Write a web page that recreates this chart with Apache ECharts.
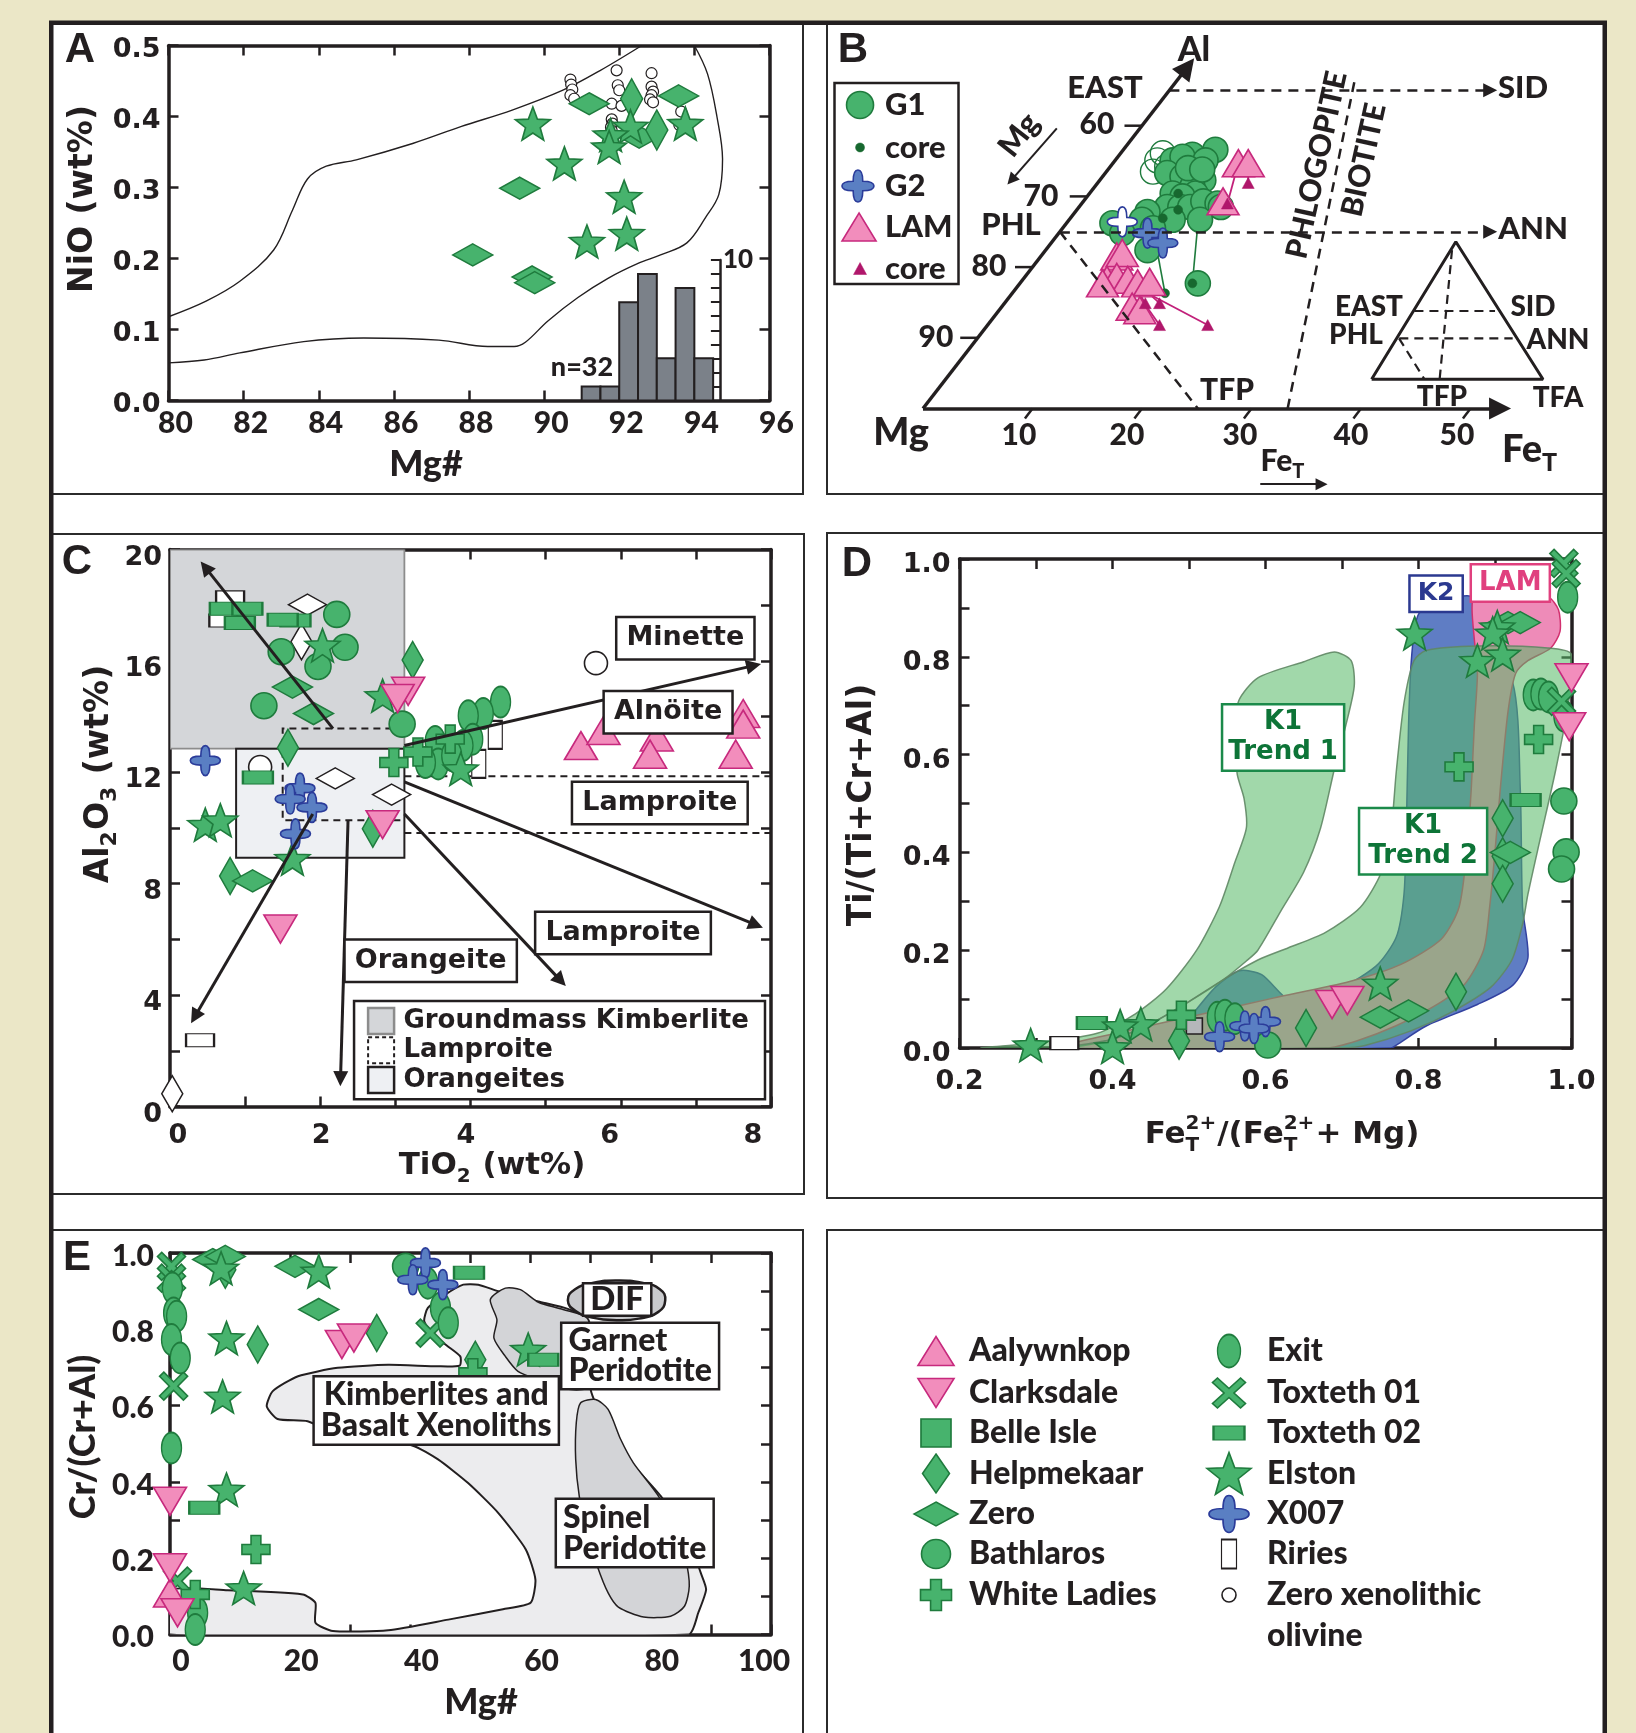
<!DOCTYPE html>
<html>
<head>
<meta charset="utf-8">
<title>Kimberlite mineral chemistry</title>
<script src="https://cdn.jsdelivr.net/npm/echarts@6.0.0/dist/echarts.min.js"></script>
<style>
  html, body { margin: 0; padding: 0; background: #ebe7c7; }
  #chart { width: 1636px; height: 1733px; }
</style>
</head>
<body>
<div id="chart"></div>
<script>
// ---------- panel A : olivine NiO vs Mg# ----------
const A_envUpper = [[80,0.118],[81.0,0.140],[81.9,0.168],[82.8,0.212],[83.3,0.268],[83.7,0.312],[84.2,0.330],[85.0,0.339],[86.5,0.362],[87.8,0.386],[89.15,0.409],[90.5,0.437],[91.5,0.465],[92.6,0.5]];
const A_envLower = [[94.0,0.5],[94.35,0.46],[94.6,0.40],[94.75,0.34],[94.65,0.29],[94.3,0.258],[93.8,0.222],[93.1,0.205],[92.5,0.193],[91.7,0.172],[90.9,0.145],[90.1,0.112],[89.5,0.082],[89.2,0.076],[88.5,0.076],[87.2,0.085],[85.2,0.088],[83.6,0.083],[81.9,0.067],[80.95,0.057],[80,0.053]];
const A_histEdges = [91, 91.5, 92, 92.5, 93, 93.5, 94, 94.5];
const A_histCounts = [1, 1, 7, 9, 3, 8, 3];
const A_zeroOlivine = [[90.7,0.452],[90.72,0.445],[90.75,0.438],[90.7,0.43],[90.8,0.425],[91.93,0.465],[91.96,0.444],[92.0,0.437],[91.8,0.418],[92.06,0.415],[91.8,0.396],[91.82,0.39],[91.78,0.385],[91.8,0.38],[92.86,0.461],[92.86,0.442],[92.9,0.435],[92.86,0.43],[92.82,0.424],[92.9,0.42],[93.65,0.407],[93.6,0.388]];
const A_zero = [[91.2,0.418],[93.58,0.429],[89.35,0.299],[88.1,0.205],[89.68,0.174],[89.75,0.166],[92.53,0.371]];
const A_helpmekaar = [[92.33,0.425],[93.0,0.381]];
const A_elston = [[89.7,0.39],[92.3,0.386],[93.76,0.39],[91.77,0.374],[91.73,0.357],[90.54,0.334],[92.13,0.287],[92.2,0.235],[91.14,0.224]];

// ---------- panel B : mica Mg-Al-FeT (u = FeT + Al/2, v = Al) ----------
const B_leftTickVals = [60, 70, 80, 90];
const B_bottomTickVals = [10, 20, 30, 40, 50];
const B_axisLines = [[[0,0],[24.15,48.3]], [[0,0],[52.7,0]]];
const B_dashArrows = [[[22.5,45],[51.8,45]], [[12.5,25],[51.8,25]]];
const B_dashLines = [[[12.5,25],[25.1,0]], [[33.3,0],[39.5,47]]];
const B_smallArrows = [[[12.22,39.63],[8.07,32.31]], [[30.8,-10.7],[36.4,-10.7]]];
const B_inset = [[40.97,4.13],[48.66,23.59],[56.62,4.13],[40.97,4.13]];
const B_insetDash = [[44.88,13.79,52.24,13.79],[43.5,9.93,53.85,9.93],[48.31,22.4,47.18,4.13],[43.47,9.93,45.8,4.13]];
const B_g1 = [[26.7,36.6],[24.6,35.9],[22.8,35.1],[23.7,35.6],[25.8,35.1],[22.3,33.3],[23.7,32.8],[25.6,32.3],[24.6,31.4],[22.8,30.4],[24.9,30.4],[23.7,30.0],[22.3,28.5],[23.5,28.5],[24.4,28.5],[20.5,27.8],[25.6,29.3],[26.9,29.0],[27.2,28.5],[25.3,26.7],[22.8,26.7],[20.0,26.7],[17.3,26.2],[18.2,24.8],[21.0,25.5],[20.5,22.4],[25.1,17.7],[24.2,34.0],[25.5,33.8]];
const B_g1Open = [[21.4,35.1],[22.3,34.2],[21.0,33.5],[21.9,36.1]];
const B_g1Core = [[23.3,30.4],[23.3,28.1],[21.9,26.9],[24.6,17.7],[22.1,16.3]];
const B_g1Links = [[24.6,17.7,25.6,34.5],[22.1,16.3,21.0,25.5],[23.3,28.1,24.0,33.0],[21.9,26.9,22.8,31.0],[23.3,30.4,23.0,35.0]];
const B_g2 = [[20.5,24.8],[21.9,23.4]];
const B_g2Open = [[18.2,26.4]];
const B_lam = [[17.7,21.5],[18.2,22.0],[16.8,18.2],[17.7,18.6],[18.7,18.2],[19.6,17.7],[20.7,17.9],[19.1,14.4],[19.8,13.9],[28.8,34.7],[29.7,34.7],[27.4,29.3],[16.4,17.7]];
const B_lamCore = [[29.7,31.9],[27.8,29.0],[21.6,14.9],[21.6,11.8],[26.0,11.8],[20.3,14.9]];
const B_lamLinks = [[17.7,18.6,26.0,11.8],[18.7,18.2,21.6,11.8],[28.8,34.7,27.8,29.0],[29.7,34.7,29.7,31.9],[19.6,17.7,21.6,14.9],[17.7,21.5,20.3,14.9]];

// ---------- panel C : spinel Al2O3 vs TiO2 ----------
const C_gmKimberlite = [[0,12.85],[3.12,12.85],[3.12,20],[0,20]];
const C_orangeites = [[0.88,8.93],[3.12,8.93],[3.12,12.85],[0.88,12.85]];
const C_lamproiteBox = [[3.12,13.57],[1.5,13.57],[1.5,10.28],[3.12,10.28]];
const C_lamproiteLines = [[3.12,11.86,8,11.86],[3.12,9.82,8,9.82]];
const C_trends = [[[2.17,13.57],[0.47,19.36]],[[1.9,10.5],[0.33,3.22]],[[2.37,10.28],[2.27,1.0]],[[3.12,10.5],[5.2,4.52]],[[3.12,11.66],[7.8,6.52]],[[3.12,12.96],[7.77,15.83]]];
const C_legendBox = [[2.45,0.26],[7.92,0.26],[7.92,3.79],[2.45,3.79]];
const C_bathlaros = [[2.22,17.67],[1.48,16.33],[2.33,16.49],[1.97,15.8],[1.25,14.39],[3.09,13.73]];
const C_exit = [[4.4,14.52],[4.17,14.11],[3.97,14.03],[4.03,13.19],[3.9,12.96],[3.53,13.11],[3.57,12.3],[3.4,12.35],[3.75,12.6]];
const C_helpmekaar = [[3.23,16.03],[1.57,12.88],[2.7,9.97],[0.8,8.28]];
const C_zero = [[1.63,15.06],[1.91,14.11],[1.1,8.1]];
const C_elston = [[2.03,16.56],[2.83,14.75],[0.47,10.12],[0.67,10.28],[1.63,8.9],[3.87,12.12]];
const C_whiteLadies = [[2.98,12.35],[3.73,13.19],[3.3,12.73]];
const C_x007 = [[0.47,12.42],[1.73,11.43],[1.6,11.04],[1.89,10.74],[1.67,9.79]];
const C_clarksdale = [[3.17,14.91],[3.03,14.65],[2.83,10.12],[1.47,6.37]];
const C_aalywnkop = [[5.47,12.96],[5.77,13.5],[6.48,13.27],[6.39,12.65],[7.53,12.65],[7.63,14.11],[7.63,13.73]];
const C_toxteth02 = [[0.73,17.87],[1.03,17.87],[0.93,17.36],[1.67,17.45],[1.5,17.48],[1.17,11.81]];
const C_riries = [[4.33,13.34],[4.11,12.3]];
const C_refRect = [[0.8,18.28],[0.71,17.45],[0.4,2.38]];
const C_refDiamondH = [[1.83,18.02],[2.2,11.78],[2.95,11.2]];
const C_refDiamondV = [[1.75,16.69],[0.03,0.46]];
const C_refCircle = [[1.2,12.19],[5.67,15.92]];

// ---------- panel D : Ti/(Ti+Cr+Al) vs Fe2+/(Fe2+ + Mg) ----------
const D_k2 = [[0.800,0.887],[0.830,0.913],[0.870,0.922],[0.877,0.835],[0.923,0.748],[0.933,0.531],[0.936,0.288],[0.943,0.184],[0.923,0.128],[0.877,0.089],[0.810,0.045],[0.771,0.006],[0.764,0.0],[0.47,0.0],[0.50,0.06],[0.535,0.125],[0.566,0.158],[0.595,0.15],[0.632,0.097],[0.678,0.106],[0.744,0.167],[0.771,0.227],[0.781,0.314],[0.784,0.444],[0.787,0.661],[0.791,0.800]];
const D_lam = [[0.873,0.922],[0.930,0.931],[0.970,0.922],[0.983,0.896],[0.985,0.852],[0.973,0.818],[0.943,0.792],[0.927,0.766],[0.917,0.688],[0.907,0.531],[0.900,0.401],[0.893,0.288],[0.885,0.200],[0.860,0.130],[0.820,0.085],[0.770,0.045],[0.720,0.015],[0.680,0.0],[0.330,0.0],[0.41,0.032],[0.51,0.067],[0.61,0.102],[0.71,0.136],[0.777,0.171],[0.83,0.223],[0.853,0.288],[0.863,0.401],[0.869,0.531],[0.873,0.661],[0.877,0.766],[0.873,0.835],[0.870,0.896]];
const D_trend1 = [[0.228,0.0],[0.30,0.010],[0.38,0.030],[0.43,0.070],[0.47,0.120],[0.51,0.200],[0.54,0.290],[0.56,0.380],[0.575,0.450],[0.572,0.510],[0.563,0.560],[0.560,0.640],[0.565,0.710],[0.590,0.757],[0.650,0.790],[0.690,0.810],[0.712,0.792],[0.716,0.740],[0.705,0.660],[0.690,0.570],[0.672,0.450],[0.650,0.360],[0.620,0.280],[0.590,0.200],[0.575,0.178],[0.545,0.140],[0.50,0.095],[0.45,0.05],[0.40,0.018],[0.34,0.0]];
const D_trend2 = [[0.794,0.792],[0.810,0.813],[0.877,0.822],[0.969,0.818],[1.0,0.805],[0.996,0.705],[0.979,0.566],[0.959,0.427],[0.943,0.314],[0.936,0.253],[0.922,0.180],[0.895,0.125],[0.845,0.075],[0.790,0.035],[0.730,0.005],[0.70,0.0],[0.34,0.0],[0.40,0.018],[0.45,0.05],[0.50,0.095],[0.545,0.140],[0.590,0.180],[0.630,0.205],[0.678,0.236],[0.724,0.288],[0.751,0.358],[0.764,0.444],[0.771,0.566],[0.781,0.705]];
const D_toxteth01 = [[0.99,0.991],[0.993,0.97],[0.987,0.709]];
const D_exit = [[0.995,0.922],[0.95,0.722],[0.96,0.724],[0.97,0.718],[0.99,0.679],[0.537,0.063],[0.547,0.067],[0.56,0.06]];
const D_bathlaros = [[0.99,0.505],[0.993,0.401],[0.987,0.366],[0.603,0.006]];
const D_clarksdale = [[1.0,0.757],[0.997,0.657],[0.687,0.089],[0.707,0.097]];
const D_whiteLadies = [[0.957,0.631],[0.853,0.575],[0.49,0.067]];
const D_toxteth02 = [[0.94,0.507],[0.373,0.051]];
const D_helpmekaar = [[0.91,0.47],[0.91,0.392],[0.91,0.336],[0.849,0.115],[0.653,0.041],[0.487,0.015]];
const D_zero = [[0.917,0.87],[0.933,0.87],[0.75,0.063],[0.787,0.076],[0.92,0.40]];
const D_elston = [[0.795,0.848],[0.903,0.861],[0.897,0.848],[0.877,0.792],[0.91,0.805],[0.75,0.132],[0.437,0.049],[0.41,0.045],[0.293,0.006],[0.4,0.002]];
const D_x007 = [[0.54,0.023],[0.573,0.045],[0.6,0.054],[0.585,0.04]];
const D_refRect = [[0.337,0.01]];
const D_graySquare = [[0.507,0.045]];

// ---------- panel E : spinel Cr/(Cr+Al) vs Mg# ----------
const E_kimbField = [[0,0.116],[9.6,0.116],[22.1,0.105],[24.2,0.083],[24.2,0.031],[27.1,0.009],[36.3,0.011],[46.3,0.039],[55.4,0.066],[60,0.083],[60.8,0.144],[59.2,0.223],[54.6,0.319],[49.6,0.397],[44.6,0.459],[40.4,0.495],[27.9,0.524],[22.9,0.559],[17.9,0.565],[16.1,0.598],[17.1,0.638],[21.3,0.677],[27.9,0.699],[36.3,0.707],[44.6,0.703],[48.2,0.705],[48.3,0.729],[46.1,0.757],[43.8,0.786],[42.3,0.821],[42.9,0.856],[45.8,0.891],[48.8,0.917],[51.3,0.917],[54.6,0.9],[61.3,0.873],[66.3,0.853],[69.6,0.825],[70.4,0.738],[70,0.642],[72.1,0.563],[76.3,0.459],[81.7,0.362],[86.3,0.249],[88.3,0.162],[89.2,0.118],[87.9,0.057],[86.3,0],[0,0]];
const E_garnet = [[53.3,0.878],[55.8,0.908],[58.3,0.904],[61.3,0.871],[65.4,0.852],[69.6,0.825],[70,0.651],[66.7,0.642],[61.3,0.668],[57.9,0.69],[55.8,0.729],[53.9,0.777],[54.4,0.825]];
const E_spinel = [[68.3,0.607],[70.8,0.616],[72.9,0.59],[75,0.511],[77.1,0.45],[81.3,0.362],[84.2,0.275],[85.8,0.197],[86.4,0.127],[85.6,0.074],[83.3,0.048],[78.8,0.046],[74.6,0.072],[72.9,0.109],[71.1,0.179],[69.4,0.266],[68.1,0.362],[67.5,0.459],[67.6,0.555]];
const E_dif = [[66.2,0.876],[67.4,0.905],[70.5,0.922],[74.3,0.928],[78.5,0.922],[81.5,0.905],[82.4,0.876],[81.2,0.845],[78,0.828],[74.3,0.824],[70.5,0.83],[67.5,0.848]];
const E_toxteth01 = [[0.25,0.965],[0.25,0.934],[0.6,0.651],[43.3,0.79],[1.25,0.14]];
const E_exit = [[0.4,0.908],[0.6,0.843],[1.1,0.834],[0.25,0.773],[1.7,0.725],[0.25,0.489],[4.6,0.057],[4.2,0.013],[45,0.856],[46.3,0.817],[42.9,0.921]];
const E_bathlaros = [[39.2,0.965]];
const E_helpmekaar = [[9.2,0.956],[14.6,0.76],[34.4,0.79],[50.8,0.72]];
const E_zero = [[7.1,0.983],[9.2,0.991],[20.8,0.965],[24.75,0.852]];
const E_elston = [[24.75,0.952],[9.4,0.777],[8.75,0.624],[9.4,0.38],[12.25,0.122],[59.6,0.747],[8.5,0.96]];
const E_clarksdale = [[0,0.349],[0,0.175],[1.25,0.057],[28.6,0.76],[30.6,0.777]];
const E_aalywnkop = [[0,0.109]];
const E_whiteLadies = [[14.3,0.223],[4.2,0.105],[50.4,0.686]];
const E_toxteth02 = [[5.7,0.332],[49.75,0.948],[62.1,0.72]];
const E_x007 = [[42.5,0.974],[40.4,0.93],[45.4,0.917]];

// ---------- legend ----------
const LEGEND_LEFT = ['Aalywnkop', 'Clarksdale', 'Belle Isle', 'Helpmekaar', 'Zero', 'Bathlaros', 'White Ladies'];
const LEGEND_RIGHT = ['Exit', 'Toxteth 01', 'Toxteth 02', 'Elston', 'X007', 'Riries', 'Zero xenolithic'];

// ---------- styles ----------
const INK = '#231f20';
const GREEN = '#47b36d', GREEN_D = '#1f7b3d', CORE_G = '#17682f';
const PINK = '#f28dbc', PINK_D = '#c7297d', CORE_P = '#b0176b';
const BLUE = '#5a7fc3', BLUE_D = '#2b3c9a';
const FV = '"DejaVu Sans", Verdana, sans-serif';
const FM = 'Lato, "Open Sans", sans-serif';
const FL = '"Liberation Sans", Arial, sans-serif';
const HEAVY = 900;

const P_DOWN = 'path://M0,0L20,0L10,17Z';
const P_PLUS = 'path://M6.5,0H13.5V6.5H20V13.5H13.5V20H6.5V13.5H0V6.5H6.5Z';
const P_X = 'path://M3,0L10,7L17,0L20,3L13,10L20,17L17,20L10,13L3,20L0,17L7,10L0,3Z';
const P_ELL = 'path://M10,0A10,10,0,1,1,10,20A10,10,0,1,1,10,0Z';
const P_STAR = 'path://M0,-10L2.47,-3.4L9.51,-3.09L3.99,1.3L5.88,8.09L0,4.2L-5.88,8.09L-3.99,1.3L-9.51,-3.09L-2.47,-3.4Z';
const P_BLOB = 'path://M10,0C12.6,0,13,4,13,7C16,7,20,7.4,20,10C20,12.6,16,13,13,13C13,16,12.6,20,10,20C7.4,20,7,16,7,13C4,13,0,12.6,0,10C0,7.4,4,7,7,7C7,4,7.4,0,10,0Z';

const STYLE = {
  'Aalywnkop':    { symbol: 'triangle', size: [33, 28], fill: PINK, line: PINK_D, leg: [36, 29] },
  'Clarksdale':   { symbol: P_DOWN, size: [33, 28], fill: PINK, line: PINK_D, leg: [36, 29] },
  'Belle Isle':   { symbol: 'rect', size: [27, 27], fill: GREEN, line: GREEN_D, leg: [30, 28] },
  'Helpmekaar':   { symbol: 'diamond', size: [21, 37], fill: GREEN, line: GREEN_D, leg: [27, 39] },
  'Zero':         { symbol: 'diamond', size: [40, 22], fill: GREEN, line: GREEN_D, leg: [44, 24] },
  'Bathlaros':    { symbol: 'circle', size: 26, fill: GREEN, line: GREEN_D, leg: 29 },
  'White Ladies': { symbol: P_PLUS, size: 28, fill: GREEN, line: GREEN_D, leg: 31 },
  'Exit':         { symbol: P_ELL, size: [20, 31], fill: GREEN, line: GREEN_D, leg: [23, 33] },
  'Toxteth 01':   { symbol: P_X, size: 28, fill: GREEN, line: GREEN_D, leg: [33, 30] },
  'Toxteth 02':   { symbol: 'rect', size: [30, 13], fill: GREEN, line: GREEN_D, leg: [31, 14] },
  'Elston':       { symbol: P_STAR, size: [35, 33], fill: GREEN, line: GREEN_D, leg: [44, 42] },
  'X007':         { symbol: P_BLOB, size: 30, fill: BLUE, line: BLUE_D, leg: [40, 37] },
  'Riries':       { symbol: 'rect', size: [14, 28], fill: '#ffffff', line: INK, leg: [15, 29] },
  'Zero xenolithic': { symbol: 'circle', size: 11, fill: '#ffffff', line: INK, leg: 14 }
};

// ---------- layout helpers ----------
const grids = [], xAxes = [], yAxes = [], series = [], graphics = [];

function addGrid(r) {
  grids.push(Object.assign({ show: false, containLabel: false, outerBoundsMode: 'none' }, r));
  return grids.length - 1;
}
function hiddenAxes(g, xr, yr, yInverse) {
  const ax = { x: xAxes.length, y: yAxes.length };
  xAxes.push({ type: 'value', gridIndex: g, min: xr[0], max: xr[1], show: false });
  yAxes.push({ type: 'value', gridIndex: g, min: yr[0], max: yr[1], show: false, inverse: !!yInverse });
  return ax;
}
function frameAxes(g, xc, yc) {
  const mk = (pos, c, labelOn) => ({
    type: 'value', gridIndex: g, position: pos, min: c.min, max: c.max, interval: c.interval,
    axisLine: { show: true, onZero: false, lineStyle: { color: INK, width: 3.5 } },
    axisTick: { show: true, inside: true, length: 10, lineStyle: { color: INK, width: 2.5 } },
    splitLine: { show: false },
    axisLabel: labelOn ? Object.assign({ show: true, color: INK, fontWeight: 'bold', showMinLabel: true, showMaxLabel: true }, c.label) : { show: false }
  });
  const ax = { x: xAxes.length, y: yAxes.length };
  xAxes.push(mk('bottom', xc, true), mk('top', xc, false));
  yAxes.push(mk('left', yc, true), mk('right', yc, false));
  return ax;
}
function pts(name, data, ax, o) {
  const s = STYLE[name];
  o = o || {};
  return {
    type: 'scatter', name, data, xAxisIndex: ax.x, yAxisIndex: ax.y, clip: false, silent: true, z: 4,
    symbol: o.symbol || s.symbol, symbolSize: o.size || s.size,
    itemStyle: { color: o.fill || s.fill, borderColor: o.line || s.line, borderWidth: o.bw || 1.6, borderType: o.dash ? 'dashed' : 'solid', opacity: 1 }
  };
}
function poly(points, ax, style, smooth, z) {
  return {
    type: 'custom', xAxisIndex: ax.x, yAxisIndex: ax.y, clip: true, silent: true, z: z || 1, data: [points[0]],
    renderItem: (params, api) => ({
      type: 'polygon', shape: { points: points.map(p => api.coord(p)), smooth: smooth || 0 }, style: Object.assign({}, style)
    })
  };
}
function polyline(points, ax, style) {
  return {
    type: 'custom', xAxisIndex: ax.x, yAxisIndex: ax.y, clip: false, silent: true, z: 2, data: [points[0]],
    renderItem: (params, api) => ({ type: 'polyline', shape: { points: points.map(p => api.coord(p)) }, style: Object.assign({ fill: 'none' }, style) })
  };
}
function segs(data, ax, style, z) {
  return {
    type: 'custom', xAxisIndex: ax.x, yAxisIndex: ax.y, clip: false, silent: true, z: z || 2, data,
    encode: { x: [0, 2], y: [1, 3] },
    renderItem: (params, api) => {
      const a = api.coord([api.value(0), api.value(1)]);
      const b = api.coord([api.value(2), api.value(3)]);
      return { type: 'line', shape: { x1: a[0], y1: a[1], x2: b[0], y2: b[1] }, style: Object.assign({ fill: 'none' }, style) };
    }
  };
}
function arrows(lines, ax, lineStyle, size, head) {
  return {
    type: 'scatter', xAxisIndex: ax.x, yAxisIndex: ax.y, data: [lines[0][0]], symbolSize: 0, silent: true, z: 3,
    itemStyle: { color: 'transparent' },
    markLine: {
      silent: true, animation: false, symbol: ['none', head === false ? 'none' : 'triangle'], symbolSize: size,
      label: { show: false }, lineStyle: Object.assign({ color: INK, opacity: 1 }, lineStyle), emphasis: { disabled: true },
      data: lines.map(l => [{ coord: l[0] }, { coord: l[1] }])
    }
  };
}
function curve(data, ax, style, smooth, clip) {
  return { type: 'line', data, xAxisIndex: ax.x, yAxisIndex: ax.y, symbol: 'none', showSymbol: false, smooth: smooth || false, clip: clip !== false, silent: true, z: 2, lineStyle: style };
}
function tag(ax, pos, text, o) {
  return {
    type: 'scatter', xAxisIndex: ax.x, yAxisIndex: ax.y, data: [pos], symbolSize: 1,
    itemStyle: { color: 'transparent', opacity: 1 },
    silent: true, z: 6, clip: false,
    label: {
      show: true, position: 'inside', formatter: text, fontFamily: o.font, fontWeight: o.weight || 'bold', fontSize: o.size,
      color: o.color || INK, opacity: 1, lineHeight: o.lh || Math.round(o.size * 1.1),
      backgroundColor: o.box === false ? 'transparent' : '#ffffff',
      borderColor: o.border || INK, borderWidth: o.box === false ? 0 : (o.bw || 2.5),
      padding: o.pad || [4, 8], align: o.align || 'center', verticalAlign: 'middle'
    }
  };
}
// shift individual tick labels sideways (the source figure set them slightly off the ticks)
function shiftedLabels(fmt, shifts) {
  return {
    formatter: v => { const s = fmt(v); if (s === '') return ''; const k = shifts[s]; return k ? `{${k}|${s}}` : s; },
    rich: {
      l16: { padding: [0, 0, 0, 16] }, l22: { padding: [0, 0, 0, 22] }, l2: { padding: [0, 0, 0, 2] },
      r9: { padding: [0, 9, 0, 0] }, r22: { padding: [0, 22, 0, 0] }, r36: { padding: [0, 36, 0, 0] }, r14: { padding: [0, 14, 0, 0] }
    }
  };
}
// push y tick labels a little below their ticks, as in the source figure
function loweredLabels(fmt, drop) {
  return {
    formatter: v => { const s = fmt(v); return s === '' ? '' : `{d|${s}}`; },
    rich: { d: { padding: [drop, 0, 0, 0] } }
  };
}

const mctx = document.createElement('canvas').getContext('2d');
function tw(t, font) { mctx.font = font; return mctx.measureText(t).width; }
function tstyle(text, font, align) {
  return { text, font, fill: INK, align: align || 'center', verticalAlign: 'middle', textAlign: align || 'center', textVerticalAlign: 'middle' };
}
function txt(x, y, text, size, family, o) {
  o = o || {};
  const w = family === FM ? HEAVY : 'bold';
  return { type: 'text', x, y, rotation: o.rot || 0, z: 50, silent: true, style: tstyle(text, `${w} ${size}px ${family}`, o.align) };
}
// text with sub/superscripts, built from measured pieces so stacked indices line up
function formula(x, y, parts, size, family, rot) {
  const w8 = family === FM ? HEAVY : 'bold';
  const main = `${w8} ${size}px ${family}`;
  const small = `${w8} ${Math.round(size * 0.66)}px ${family}`;
  const kids = [];
  let cur = 0;
  parts.forEach(p => {
    if (typeof p === 'string') {
      kids.push({ type: 'text', x: cur, y: 0, z: 50, style: tstyle(p, main, 'left') });
      cur += tw(p, main);
    } else {
      let w = 0;
      if (p.sup) { kids.push({ type: 'text', x: cur, y: -size * 0.36, z: 50, style: tstyle(p.sup, small, 'left') }); w = Math.max(w, tw(p.sup, small)); }
      if (p.sub) { kids.push({ type: 'text', x: cur, y: size * 0.34, z: 50, style: tstyle(p.sub, small, 'left') }); w = Math.max(w, tw(p.sub, small)); }
      cur += w + 1;
    }
  });
  kids.forEach(k => { k.x -= cur / 2; });
  return { type: 'group', x, y, rotation: rot || 0, children: kids };
}

// ---------- page frame ----------
graphics.push({ type: 'rect', z: -20, silent: true, shape: { x: 51, y: 22, width: 1553, height: 1740 }, style: { fill: '#ffffff' } });
[[51, 22, 752, 472], [827, 22, 778, 472], [51, 534, 753, 660], [827, 533, 778, 665], [51, 1230, 752, 530], [827, 1230, 778, 530]].forEach(r => {
  graphics.push({ type: 'rect', z: -15, silent: true, shape: { x: r[0], y: r[1], width: r[2], height: r[3] }, style: { fill: 'none', stroke: '#2b2b2b', lineWidth: 2 } });
});
graphics.push({ type: 'rect', z: -10, silent: true, shape: { x: 51.25, y: 22.75, width: 1553.5, height: 1740 }, style: { fill: 'none', stroke: INK, lineWidth: 4.5 } });
[['A', 80, 50], ['B', 853, 50], ['C', 77, 562], ['D', 857, 564], ['E', 77, 1258]].forEach(l => graphics.push(txt(l[1], l[2], l[0], 42, FL)));

const tenth = v => (Math.round(v * 10) % 2 === 0 ? v.toFixed(1) : '');

// ================= panel A =================
const gA = addGrid({ left: 168.5, top: 45.5, width: 601, height: 355 });
const gH = addGrid({ left: 168.5, top: 260, width: 551.4, height: 140.5 });
const axA = frameAxes(gA,
  { min: 80, max: 96, interval: 2, label: { fontFamily: FM, fontWeight: HEAVY, fontSize: 30, margin: 8, padding: [0, 0, 0, 14] } },
  { min: 0, max: 0.5, interval: 0.1, label: Object.assign({ fontFamily: FV, fontSize: 27, margin: 8 }, loweredLabels(v => v.toFixed(1), 8)) });
const axH = { x: xAxes.length, y: yAxes.length };
xAxes.push({ type: 'value', gridIndex: gH, min: 80, max: 94.68, show: false });
yAxes.push({
  type: 'value', gridIndex: gH, position: 'right', min: 0, max: 10, interval: 1,
  axisLine: { show: true, onZero: false, lineStyle: { color: INK, width: 2.5 } },
  axisTick: { show: true, inside: true, length: 9, lineStyle: { color: INK, width: 2 } },
  splitLine: { show: false },
  axisLabel: { show: true, color: INK, fontFamily: FM, fontWeight: HEAVY, fontSize: 26, margin: 3, showMaxLabel: true, formatter: v => (v === 10 ? '10' : '') }
});
series.push(curve(A_envUpper, axA, { color: INK, width: 1.4 }, 0.35));
series.push(curve(A_envLower, axA, { color: INK, width: 1.4 }, 0.35));
series.push({
  type: 'custom', xAxisIndex: axH.x, yAxisIndex: axH.y, silent: true, z: 1, clip: false,
  data: A_histCounts.map((c, i) => [A_histEdges[i], A_histEdges[i + 1], c]),
  encode: { x: [0, 1], y: 2 },
  renderItem: (params, api) => {
    const a = api.coord([api.value(0), api.value(2)]);
    const b = api.coord([api.value(1), 0]);
    return { type: 'rect', shape: { x: a[0], y: a[1], width: b[0] - a[0], height: b[1] - a[1] }, style: { fill: '#7b8189', stroke: INK, lineWidth: 2 } };
  }
});
series.push(pts('Zero xenolithic', A_zeroOlivine, axA, { bw: 1.2 }));
series.push(pts('Zero', A_zero, axA));
series.push(pts('Helpmekaar', A_helpmekaar, axA, { size: [22, 40] }));
series.push(pts('Elston', A_elston, axA, { size: [35, 33] }));
graphics.push(formula(83, 199, ['NiO (wt%)'], 33, FV, Math.PI / 2));
graphics.push(txt(426, 464, 'Mg#', 36, FM));
graphics.push(txt(582, 367, 'n=32', 27, FM));

// ================= panel B =================
const gB = addGrid({ left: 813.5, top: 55, width: 766.5, height: 438.34 });
const axB = hiddenAxes(gB, [-10, 60], [-12, 50]);
const B_leftTicks = B_leftTickVals.map(m => { const v = 100 - m; return [v / 2 - 1.6, v, v / 2, v]; });
const B_bottomTicks = B_bottomTickVals.map(f => [f, 0, f - 0.69, -1.41]);
series.push(segs(B_leftTicks, axB, { stroke: INK, lineWidth: 2.5 }));
series.push(segs(B_bottomTicks, axB, { stroke: INK, lineWidth: 2.5 }));
series.push(arrows(B_axisLines, axB, { width: 3.5, type: 'solid' }, 22));
series.push(arrows(B_dashArrows, axB, { width: 2.5, type: [10, 7] }, 14));
series.push(arrows(B_dashLines, axB, { width: 2.5, type: [10, 7] }, 1, false));
series.push(arrows(B_smallArrows, axB, { width: 2, type: 'solid' }, 12));
series.push(curve(B_inset, axB, { color: INK, width: 3 }, false, false));
series.push(segs(B_insetDash, axB, { stroke: INK, lineWidth: 2.2, lineDash: [9, 6] }));
series.push(segs(B_g1Links, axB, { stroke: GREEN_D, lineWidth: 1.6 }, 3));
series.push(segs(B_lamLinks, axB, { stroke: '#c2207a', lineWidth: 1.8 }, 3));
series.push(pts('Bathlaros', B_g1Open, axB, { fill: 'rgba(255,255,255,0)', size: 25, bw: 1.4 }));
series.push(pts('Bathlaros', B_g1, axB, { size: 25 }));
series.push(pts('Bathlaros', B_g1Core, axB, { size: 9, fill: CORE_G, line: CORE_G, bw: 0.5 }));
series.push(pts('X007', B_g2Open, axB, { fill: '#ffffff', size: 30 }));
series.push(pts('X007', B_g2, axB, { size: 30 }));
series.push(pts('Aalywnkop', B_lam, axB, { size: [32, 27] }));
series.push(pts('Aalywnkop', B_lamCore, axB, { size: [12, 11], fill: CORE_P, line: CORE_P, bw: 0.5 }));
// panel B legend
graphics.push({ type: 'rect', z: 5, silent: true, shape: { x: 834.5, y: 83, width: 124, height: 201 }, style: { fill: '#ffffff', stroke: INK, lineWidth: 2.5 } });
const B_legendRows = [[-5.75, 42.93], [-5.75, 36.92], [-5.94, 31.47], [-5.84, 25.67], [-5.75, 19.8]];
series.push(Object.assign(pts('Bathlaros', [B_legendRows[0]], axB, { size: 27 }), { z: 7 }));
series.push(Object.assign(pts('Bathlaros', [B_legendRows[1]], axB, { size: 9, fill: CORE_G, line: CORE_G, bw: 0.5 }), { z: 7 }));
series.push(Object.assign(pts('X007', [B_legendRows[2]], axB, { size: 32 }), { z: 7 }));
series.push(Object.assign(pts('Aalywnkop', [B_legendRows[3]], axB, { size: [34, 28] }), { z: 7 }));
series.push(Object.assign(pts('Aalywnkop', [B_legendRows[4]], axB, { size: [13, 12], fill: CORE_P, line: CORE_P, bw: 0.5 }), { z: 7 }));
[['G1', 105], ['core', 147.5], ['G2', 186], ['LAM', 227], ['core', 268.5]].forEach(r => graphics.push(txt(885, r[1], r[0], 31, FM, { align: 'left' })));
graphics.push(txt(1194, 50, 'Al', 34, FM));
graphics.push(txt(1105, 88, 'EAST', 31, FM));
graphics.push(txt(1523, 88, 'SID', 31, FM));
[['60', 1097, 124], ['70', 1041, 196], ['80', 989, 266.5], ['90', 936, 337]].forEach(l => graphics.push(txt(l[1], l[2], l[0], 30, FM)));
graphics.push(txt(1011, 225, 'PHL', 31, FM));
graphics.push(txt(1533, 229, 'ANN', 31, FM));
graphics.push(txt(1019, 135, 'Mg', 31, FM, { rot: 0.91 }));
graphics.push(txt(901, 433, 'Mg', 38, FM));
[['10', 1019], ['20', 1127], ['30', 1240], ['40', 1351], ['50', 1457]].forEach(l => graphics.push(txt(l[1], 435, l[0], 30, FM)));
graphics.push(formula(1530, 450, ['Fe', { sub: 'T' }], 38, FM));
graphics.push(formula(1283, 461, ['Fe', { sub: 'T' }], 30, FM));
graphics.push(txt(1227, 390, 'TFP', 30, FM));
graphics.push(txt(1317, 165, 'PHLOGOPITE', 30, FM, { rot: 1.353 }));
graphics.push(txt(1364, 160, 'BIOTITE', 30, FM, { rot: 1.353 }));
[['EAST', 1369, 307], ['SID', 1533, 307], ['PHL', 1356, 335], ['ANN', 1558, 340], ['TFP', 1442, 397], ['TFA', 1558, 398]].forEach(l => graphics.push(txt(l[1], l[2], l[0], 28, FM)));

// ================= panel C =================
const gC = addGrid({ left: 170, top: 549.5, width: 601, height: 557 });
const axC = frameAxes(gC,
  { min: 0, max: 8, interval: 1, label: Object.assign({ fontFamily: FV, fontSize: 27, margin: 16 },
      shiftedLabels(v => (v % 2 === 0 ? String(v) : ''), { '0': 'l16', '2': 'l2', '4': 'r9', '6': 'r22', '8': 'r36' })) },
  { min: 0, max: 20, interval: 2, label: Object.assign({ fontFamily: FV, fontSize: 27, margin: 8 }, loweredLabels(v => (v % 4 === 0 ? String(v) : ''), 16)) });
series.push(poly(C_gmKimberlite, axC, { fill: '#d4d6d9', stroke: '#8c8c8c', lineWidth: 1.8 }));
series.push(poly(C_orangeites, axC, { fill: '#eef0f3', stroke: INK, lineWidth: 2 }));
series.push(polyline(C_lamproiteBox, axC, { stroke: INK, lineWidth: 2, lineDash: [7, 5] }));
series.push(segs(C_lamproiteLines, axC, { stroke: INK, lineWidth: 2, lineDash: [7, 5] }));
series.push(arrows(C_trends, axC, { width: 3, type: 'solid' }, 15));
series.push(poly(C_legendBox, axC, { fill: '#ffffff', stroke: INK, lineWidth: 2.5 }, 0, 5));
const C_legendRows = [[2.81, 3.07], [2.81, 2.02], [2.81, 0.95]];
series.push({ type: 'scatter', xAxisIndex: axC.x, yAxisIndex: axC.y, silent: true, z: 6, symbol: 'rect', symbolSize: 26, data: [C_legendRows[0]], itemStyle: { opacity: 1, color: '#d4d6d9', borderColor: '#8c8c8c', borderWidth: 2.5 } });
series.push({ type: 'scatter', xAxisIndex: axC.x, yAxisIndex: axC.y, silent: true, z: 6, symbol: 'rect', symbolSize: 26, data: [C_legendRows[1]], itemStyle: { opacity: 1, color: '#ffffff', borderColor: INK, borderWidth: 2, borderType: [4, 3] } });
series.push({ type: 'scatter', xAxisIndex: axC.x, yAxisIndex: axC.y, silent: true, z: 6, symbol: 'rect', symbolSize: 26, data: [C_legendRows[2]], itemStyle: { opacity: 1, color: '#eef0f3', borderColor: INK, borderWidth: 2.5 } });
[['Groundmass Kimberlite', 3.07], ['Lamproite', 2.02], ['Orangeites', 0.95]].forEach(r => series.push(tag(axC, [3.0, r[1]], r[0], { font: FV, size: 26, box: false, align: 'left', pad: 0 })));
series.push(pts('Riries', C_refRect, axC, { size: [28, 13] }));
series.push(pts('Riries', C_refDiamondH, axC, { symbol: 'diamond', size: [38, 21] }));
series.push(pts('Riries', C_refDiamondV, axC, { symbol: 'diamond', size: [21, 36] }));
series.push(pts('Riries', C_refCircle, axC, { symbol: 'circle', size: 23 }));
series.push(pts('Riries', C_riries, axC));
series.push(pts('Toxteth 02', C_toxteth02, axC));
series.push(pts('Bathlaros', C_bathlaros, axC));
series.push(pts('Exit', C_exit, axC));
series.push(pts('Helpmekaar', C_helpmekaar, axC));
series.push(pts('Zero', C_zero, axC));
series.push(pts('Elston', C_elston, axC));
series.push(pts('White Ladies', C_whiteLadies, axC));
series.push(pts('X007', C_x007, axC));
series.push(pts('Clarksdale', C_clarksdale, axC));
series.push(pts('Aalywnkop', C_aalywnkop, axC));
series.push(tag(axC, [6.86, 16.81], 'Minette', { font: FV, size: 27, pad: [5, 9] }));
series.push(tag(axC, [6.63, 14.16], 'Alnöite', { font: FV, size: 27, pad: [5, 9] }));
series.push(tag(axC, [6.52, 10.9], 'Lamproite', { font: FV, size: 27, pad: [5, 9] }));
series.push(tag(axC, [6.03, 6.23], 'Lamproite', { font: FV, size: 27, pad: [5, 9] }));
series.push(tag(axC, [3.47, 5.23], 'Orangeite', { font: FV, size: 27, pad: [5, 9] }));
graphics.push(formula(99.5, 774, ['Al', { sub: '2' }, 'O', { sub: '3' }, ' (wt%)'], 33, FV, Math.PI / 2));
graphics.push(formula(492, 1166, ['TiO', { sub: '2' }, ' (wt%)'], 31, FV));

// ================= panel D =================
const gD = addGrid({ left: 959.5, top: 559, width: 612, height: 489 });
const axD = frameAxes(gD,
  { min: 0.2, max: 1.0, interval: 0.1, label: { fontFamily: FV, fontSize: 27, margin: 20, formatter: tenth } },
  { min: 0, max: 1.0, interval: 0.1, label: Object.assign({ fontFamily: FV, fontSize: 27, margin: 9 }, loweredLabels(tenth, 12)) });
series.push(poly(D_k2, axD, { fill: '#5f7dc4', stroke: '#3342a0', lineWidth: 1.5 }, 0.25));
series.push(poly(D_lam, axD, { fill: '#ee8bb8', stroke: '#d2306f', lineWidth: 1.5 }, 0.25));
series.push(poly(D_trend1, axD, { fill: 'rgba(88,186,104,0.56)', stroke: 'rgba(95,135,100,0.9)', lineWidth: 1.5 }, 0.25));
series.push(poly(D_trend2, axD, { fill: 'rgba(88,186,104,0.56)', stroke: 'rgba(95,135,100,0.9)', lineWidth: 1.5 }, 0.25));
series.push(pts('Riries', D_refRect, axD, { size: [28, 13] }));
series.push(pts('Riries', D_graySquare, axD, { size: [16, 16], fill: '#b5b7ba' }));
series.push(pts('Toxteth 02', D_toxteth02, axD));
series.push(pts('Exit', D_exit, axD));
series.push(pts('Bathlaros', D_bathlaros, axD));
series.push(pts('Helpmekaar', D_helpmekaar, axD));
series.push(pts('Zero', D_zero, axD));
series.push(pts('White Ladies', D_whiteLadies, axD));
series.push(pts('Toxteth 01', D_toxteth01, axD));
series.push(pts('Elston', D_elston, axD));
series.push(pts('X007', D_x007, axD));
series.push(pts('Clarksdale', D_clarksdale, axD));
series.push(tag(axD, [0.823, 0.929], 'K2', { font: FV, size: 25, color: '#2b3990', border: '#2b3990', pad: [3, 7] }));
series.push(tag(axD, [0.92, 0.951], 'LAM', { font: FV, size: 26, color: '#e0407e', border: '#e0407e', pad: [3, 7] }));
series.push(tag(axD, [0.623, 0.635], 'K1\nTrend 1', { font: FV, size: 26, color: '#0d7437', border: '#1b8a4a', lh: 30, pad: [2, 5] }));
series.push(tag(axD, [0.806, 0.423], 'K1\nTrend 2', { font: FV, size: 26, color: '#0d7437', border: '#1b8a4a', lh: 30, pad: [2, 8] }));
graphics.push(txt(862, 805, 'Ti/(Ti+Cr+Al)', 33, FV, { rot: Math.PI / 2 }));
graphics.push(formula(1282, 1135, ['Fe', { sup: '2+', sub: 'T' }, '/(Fe', { sup: '2+', sub: 'T' }, '+ Mg)'], 31, FV));

// ================= panel E =================
const gE = addGrid({ left: 170, top: 1253, width: 601, height: 381.5 });
const axE = frameAxes(gE,
  { min: 0, max: 100, interval: 10, label: Object.assign({ fontFamily: FM, fontWeight: HEAVY, fontSize: 30, margin: 12 },
      shiftedLabels(v => (v % 20 === 0 ? String(v) : ''), { '0': 'l22', '20': 'l22', '40': 'l22', '60': 'l22', '80': 'l22', '100': 'r14' })) },
  { min: 0, max: 1.0, interval: 0.1, label: Object.assign({ fontFamily: FM, fontWeight: HEAVY, fontSize: 30, margin: 16 }, loweredLabels(tenth, 6)) });
series.push(poly(E_kimbField, axE, { fill: '#ececee', stroke: INK, lineWidth: 2 }, 0.2));
series.push(poly(E_garnet, axE, { fill: '#d3d4d7', stroke: INK, lineWidth: 1.5 }, 0.25));
series.push(poly(E_spinel, axE, { fill: '#d3d4d7', stroke: INK, lineWidth: 1.5 }, 0.25));
series.push(poly(E_dif, axE, { fill: '#c9cacd', stroke: INK, lineWidth: 2.5 }, 0.5));
series.push(pts('Toxteth 01', E_toxteth01, axE));
series.push(pts('Exit', E_exit, axE));
series.push(pts('Bathlaros', E_bathlaros, axE));
series.push(pts('Helpmekaar', E_helpmekaar, axE));
series.push(pts('Zero', E_zero, axE));
series.push(pts('Elston', E_elston, axE));
series.push(pts('White Ladies', E_whiteLadies, axE));
series.push(pts('Toxteth 02', E_toxteth02, axE));
series.push(pts('X007', E_x007, axE));
series.push(pts('Aalywnkop', E_aalywnkop, axE));
series.push(pts('Clarksdale', E_clarksdale, axE));
series.push(tag(axE, [74.4, 0.878], 'DIF', { font: FM, weight: HEAVY, size: 33, pad: [0, 6], lh: 30 }));
series.push(tag(axE, [65.3, 0.73], 'Garnet\nPeridotite', { font: FM, weight: HEAVY, size: 32, align: 'left', pad: [2, 6], lh: 30 }));
series.push(tag(axE, [44.3, 0.587], 'Kimberlites and\nBasalt Xenoliths', { font: FM, weight: HEAVY, size: 32, pad: [2, 6], lh: 31 }));
series.push(tag(axE, [64.4, 0.266], 'Spinel\nPeridotite', { font: FM, weight: HEAVY, size: 32, align: 'left', pad: [2, 6], lh: 31 }));
graphics.push(txt(83, 1437, 'Cr/(Cr+Al)', 36, FM, { rot: Math.PI / 2 }));
graphics.push(txt(481, 1702, 'Mg#', 36, FM));

// ================= legend panel =================
const gL = addGrid({ left: 827, top: 1230, width: 776, height: 503 });
const axL = hiddenAxes(gL, [0, 776], [0, 503], true);
const L_rows = [121, 163, 203, 243.5, 284, 324, 365];
LEGEND_LEFT.forEach((n, i) => {
  series.push(pts(n, [[109, L_rows[i]]], axL, { size: STYLE[n].leg }));
  graphics.push(txt(969, 1230 + L_rows[i], n, 32, FM, { align: 'left' }));
});
LEGEND_RIGHT.forEach((n, i) => {
  series.push(pts(n, [[402, L_rows[i]]], axL, { size: STYLE[n].leg }));
  graphics.push(txt(1267, 1230 + L_rows[i], n, 32, FM, { align: 'left' }));
});
graphics.push(txt(1267, 1636, 'olivine', 32, FM, { align: 'left' }));

// ---------- render ----------
const chart = echarts.init(document.getElementById('chart'), null, { renderer: 'canvas' });
chart.setOption({
  backgroundColor: '#ebe7c7',
  animation: false,
  grid: grids,
  xAxis: xAxes,
  yAxis: yAxes,
  series: series,
  graphic: { elements: graphics }
});
</script>
</body>
</html>
